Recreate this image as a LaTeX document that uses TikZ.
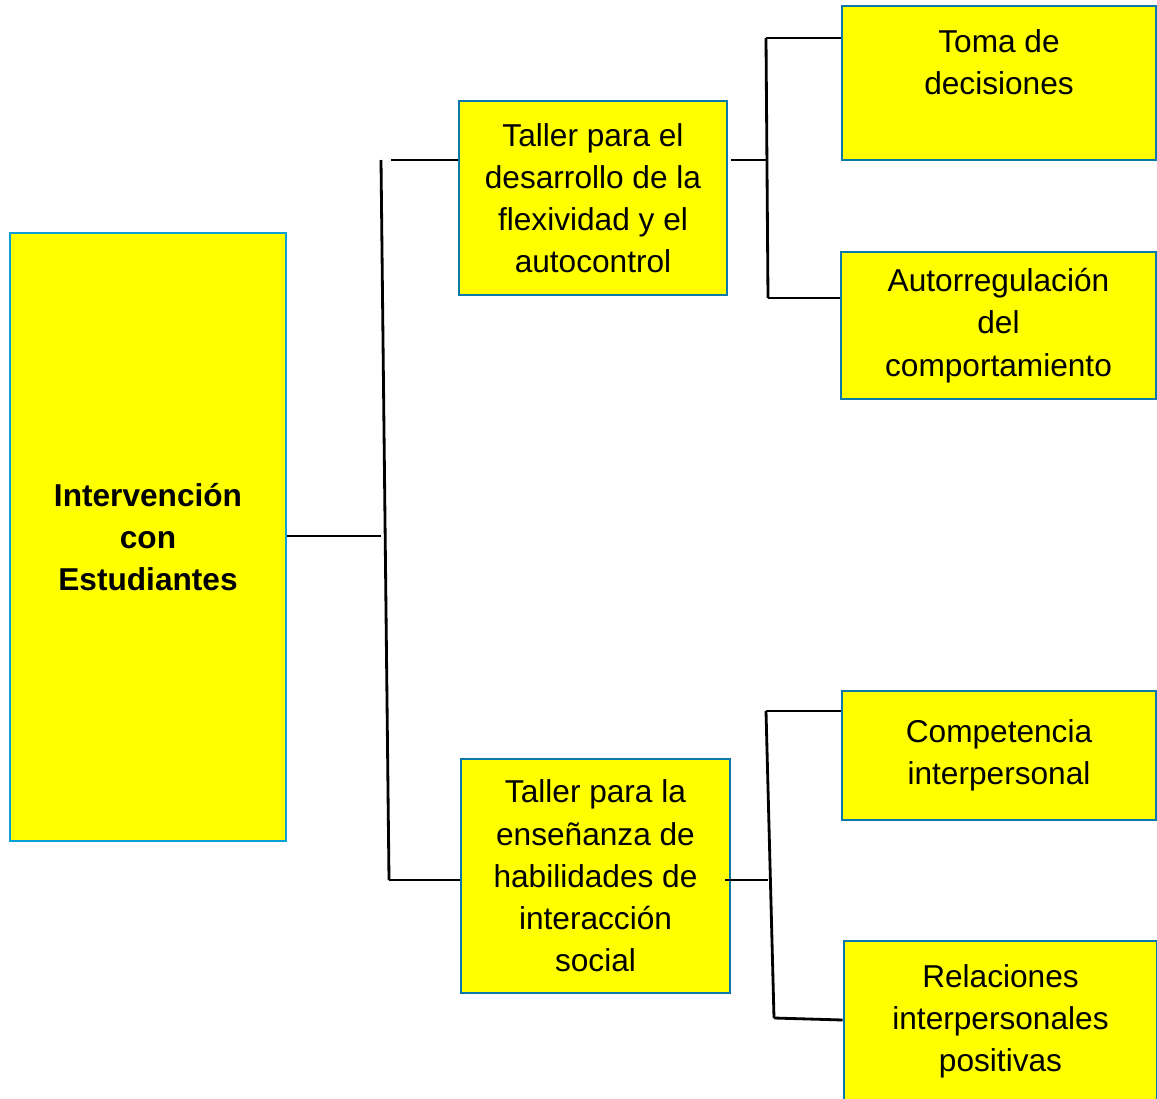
\documentclass[tikz,border=0pt]{standalone}
\usepackage{fontspec}
\setmainfont{Liberation Sans}
\usepackage{tikz}
\usetikzlibrary{positioning, calc}
\definecolor{cajaamarilla}{HTML}{FFFF00}
\definecolor{bordeazul}{HTML}{0A9FD8}
\definecolor{bordeteal}{HTML}{0A78A8}
\tikzset{
  caja/.style={draw=bordeteal, fill=cajaamarilla, line width=1.5pt, align=center,
    inner sep=0pt, font=\fontsize{18}{24}\selectfont},
  enlace/.style={line width=1.6pt, black}
}

\begin{document}
\begin{tikzpicture}[x=0.02cm, y=-0.02cm]
  \useasboundingbox (0,0) rectangle (1157,1099);
  % main box
  \node[caja, draw=bordeazul, minimum width=276*0.02cm, minimum height=608*0.02cm,
    font=\fontsize{18}{24}\selectfont\bfseries] (inter) at (148,537) {Intervención\\con\\Estudiantes};
  % talleres
  \node[caja, minimum width=268*0.02cm, minimum height=194*0.02cm] (taller1) at (593,198)
    {Taller para el\\desarrollo de la\\flexividad y el\\autocontrol};
  \node[caja, minimum width=269*0.02cm, minimum height=234*0.02cm] (taller2) at (595.5,876)
    {Taller para la\\enseñanza de\\habilidades de\\interacción\\social};
  % hojas
  \node[caja, minimum width=314*0.02cm, minimum height=154*0.02cm] (toma) at (999,83)
    {Toma de\\decisiones\\\mbox{}};
  \node[caja, minimum width=315*0.02cm, minimum height=147*0.02cm] (autorreg) at (998.5,325.5)
    {Autorregulación\\del\\comportamiento};
  \node[caja, minimum width=314*0.02cm, minimum height=129*0.02cm] (compet) at (999,755.5)
    {Competencia\\interpersonal};
  \node[caja, minimum width=313*0.02cm, minimum height=160*0.02cm] (relac) at (1000.5,1021)
    {Relaciones\\interpersonales\\positivas};

  % tronco principal
  \coordinate (troncoA) at (381,160);
  \coordinate (troncoB) at (389,880);
  \coordinate (troncoM) at (381,536);
  \draw[enlace] (troncoA) -- (troncoB);
  \draw[enlace] (inter.east |- troncoM) -- (troncoM);
  \coordinate (ramaA) at (391,160);
  \draw[enlace] (ramaA) -- (ramaA -| taller1.west);
  \draw[enlace] (troncoB) -- (troncoB -| taller2.west);

  % ramas del taller 1
  \coordinate (r1a) at (766,38);
  \coordinate (r1b) at (768,298);
  \coordinate (r1m) at (767,160);
  \coordinate (r1s) at (731,160);
  \draw[enlace] (r1a) -- (r1b);
  \draw[enlace] (r1s) -- (r1m);
  \draw[enlace] (r1a) -- (r1a -| toma.west);
  \draw[enlace] (r1b) -- (r1b -| autorreg.west);

  % ramas del taller 2
  \coordinate (r2a) at (766,711);
  \coordinate (r2b) at (774,1018);
  \coordinate (r2m) at (768,880);
  \coordinate (r2s) at (725,880);
  \draw[enlace] (r2a) -- (r2b);
  \draw[enlace] (r2s) -- (r2m);
  \draw[enlace] (r2a) -- (r2a -| compet.west);
  \draw[enlace] (r2b) -- ($(relac.west)+(0,-1)$);
\end{tikzpicture}
\end{document}
